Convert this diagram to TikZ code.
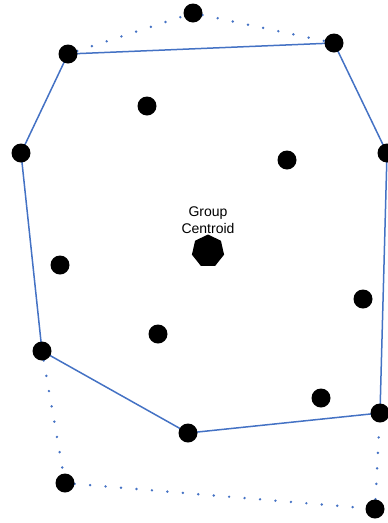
\documentclass[tikz,border=0pt]{standalone}
\usepackage{fontspec}
\setmainfont{Liberation Sans}
\usepackage{xcolor}
\usepackage{tikz}
\usetikzlibrary{shapes.geometric, backgrounds}

\definecolor{hullblue}{RGB}{68,114,196}

\begin{document}
\begin{tikzpicture}[x=1pt, y=-1pt,
    dot/.style={circle, fill=black, minimum size=19pt, inner sep=0pt},
    hull/.style={hullblue, line width=1.5pt},
    gap/.style={hullblue, line width=2.7pt, line cap=round, dash pattern=on 0pt off 15.5pt}]
      \useasboundingbox (0,0) rectangle (388,523);
      % Points on the hull
      \node[dot] (tl) at (68, 54) {};
      \node[dot] (tr) at (334, 43) {};
      \node[dot] (r) at (387, 153) {};
      \node[dot] (br) at (380, 413) {};
      \node[dot] (b) at (188, 433) {};
      \node[dot] (bl) at (42, 351) {};
      \node[dot] (l) at (21, 153) {};
      % Points outside the hull
      \node[dot] (top) at (193, 13) {};
      \node[dot] (bbl) at (65, 483) {};
      \node[dot] (bbr) at (375, 509) {};
      % Points inside the hull
      \node[dot] (in1) at (147, 106) {};
      \node[dot] (in2) at (287, 160) {};
      \node[dot] (in3) at (60, 265) {};
      \node[dot] (in4) at (363, 299) {};
      \node[dot] (in5) at (158, 334) {};
      \node[dot] (in6) at (321, 398) {};

      % Centroid
      \node[regular polygon, regular polygon sides=7, fill=black, minimum size=33pt, inner sep=0pt] (centroid) at (208, 251) {};
      \node[align=center, font=\fontsize{14}{17}\selectfont] (label) at (208, 220) {Group\\Centroid};

      \begin{scope}[on background layer]
        % Hull
        \draw[hull] (tl.center) -- (tr.center) -- (r.center) -- (br.center) -- (b.center) -- (bl.center) -- (l.center) -- cycle;
        % Dotted detours
        \draw[gap] (tl) -- (top) -- (tr);
        \draw[gap] (bl) -- (bbl) -- (bbr) -- (br);
      \end{scope}
    \end{tikzpicture}
\end{document}
